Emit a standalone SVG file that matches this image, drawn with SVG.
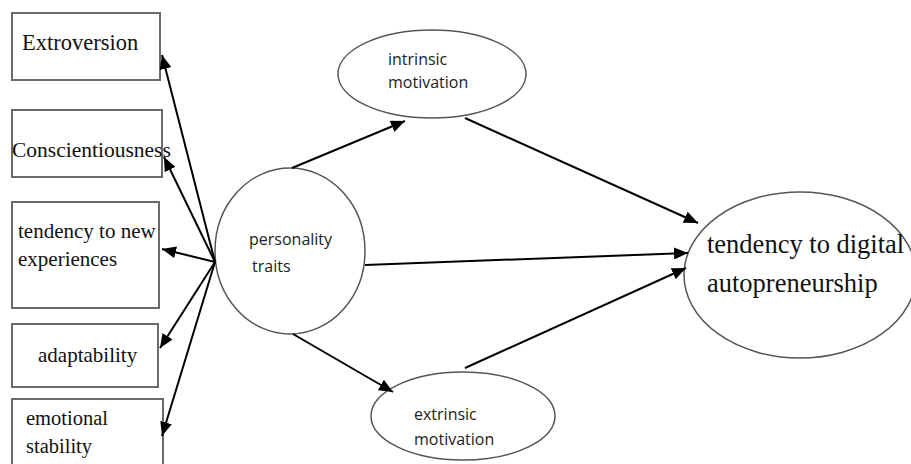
<svg xmlns="http://www.w3.org/2000/svg" width="911" height="464" viewBox="0 0 911 464">
<defs>
<marker id="arr" markerUnits="userSpaceOnUse" markerWidth="16" markerHeight="12" refX="14" refY="6" orient="auto">
<path d="M0,0 L14,6 L0,12 Z" fill="#000"/>
</marker>
<style>
.box{fill:#fff;stroke:#6a6a6a;stroke-width:2}
.ell{fill:#fff;stroke:#555;stroke-width:1.5}
.ser{font-family:"Liberation Serif","Times New Roman",serif;fill:#111}
.san{font-family:"Open Sans","Noto Sans",sans-serif;font-size:16px;fill:#222}
.con line{stroke:#000;stroke-width:2;marker-end:url(#arr)}
</style>
</defs>
<rect width="911" height="464" fill="#fff"/>
<g id="extroversion"><rect class="box" x="12" y="13" width="148" height="67"/><text class="ser" x="22" y="50" font-size="22.5">Extroversion</text></g>
<g id="conscientiousness"><rect class="box" x="12" y="110" width="150" height="67"/><text class="ser" x="12" y="157" font-size="21.5">Conscientiousness</text></g>
<g id="new-experiences"><rect class="box" x="12" y="202" width="147" height="106"/><text class="ser" x="18" y="238" font-size="21">tendency to new</text><text class="ser" x="18" y="266" font-size="21">experiences</text></g>
<g id="adaptability"><rect class="box" x="12" y="324" width="146" height="63"/><text class="ser" x="38" y="362" font-size="21">adaptability</text></g>
<g id="emotional-stability"><rect class="box" x="12" y="399" width="151" height="75"/><text class="ser" x="26" y="425" font-size="20.5">emotional</text><text class="ser" x="26" y="453" font-size="20.5">stability</text></g>
<g id="personality-traits"><ellipse class="ell" cx="290" cy="251" rx="75" ry="83"/><text class="san" x="249" y="245">personality</text><text class="san" x="252" y="272">traits</text></g>
<g id="intrinsic-motivation"><ellipse class="ell" cx="432" cy="74" rx="94" ry="44"/><text class="san" x="388" y="65">intrinsic</text><text class="san" x="388" y="88">motivation</text></g>
<g id="extrinsic-motivation"><ellipse class="ell" cx="463" cy="416" rx="92" ry="44"/><text class="san" x="414" y="420">extrinsic</text><text class="san" x="414" y="445">motivation</text></g>
<g id="digital-autopreneurship"><ellipse class="ell" cx="800" cy="275" rx="116" ry="83"/><text class="ser" x="707" y="253" font-size="26.5">tendency to digital</text><text class="ser" x="707" y="292" font-size="26.5">autopreneurship</text></g>
<g class="con" id="connectors">
<line x1="215" y1="262" x2="162" y2="55"/>
<line x1="215" y1="262" x2="164" y2="157"/>
<line x1="215" y1="262" x2="162" y2="249"/>
<line x1="215" y1="262" x2="160" y2="348"/>
<line x1="215" y1="262" x2="162" y2="436"/>
<line x1="292" y1="168" x2="405" y2="121"/>
<line x1="465" y1="118" x2="698" y2="223"/>
<line x1="365" y1="265" x2="688" y2="253"/>
<line x1="465" y1="368" x2="686" y2="268"/>
<line x1="293" y1="334" x2="393" y2="392"/>
</g>
</svg>
